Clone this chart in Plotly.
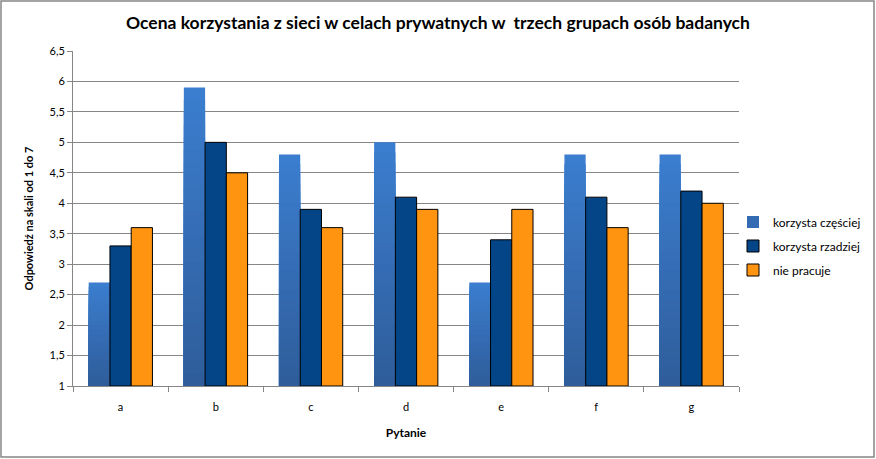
import plotly.graph_objects as go

categories = ["a", "b", "c", "d", "e", "f", "g"]
czesciej = [2.7, 5.9, 4.8, 5.0, 2.7, 4.8, 4.8]
rzadziej = [3.3, 5.0, 3.9, 4.1, 3.4, 4.1, 4.2]
nie_pracuje = [3.6, 4.5, 3.6, 3.9, 3.9, 3.6, 4.0]
series_names = ["korzysta częściej", "korzysta rzadziej", "nie pracuje"]

FONT = "Lato"
AXIS_MIN = 1.0

TOP = (0x3B, 0x7D, 0xCE)
BOTTOM = (0x2E, 0x5C, 0x99)
N_BANDS = 24

W, H = 876, 459
ML, MR, MT, MB = 73, 5, 51, 73
PW = W - ML - MR          # paper-ref width
PH = H - MT - MB          # plot height
PLOT_RIGHT = 739          # right edge of plot area in px


def mix(f):
    c = [round(BOTTOM[i] + (TOP[i] - BOTTOM[i]) * f) for i in range(3)]
    return "rgb(%d,%d,%d)" % tuple(c)


fig = go.Figure()
# gradient bars for series 1: overlaid bands in the same offset group, tallest first
for k in range(N_BANDS, 0, -1):
    f = k / N_BANDS
    fig.add_trace(go.Bar(
        x=categories, y=[(v - AXIS_MIN) * f for v in czesciej], base=AXIS_MIN,
        name=series_names[0], offsetgroup="s1", legendgroup="s1",
        showlegend=(k == N_BANDS // 2), hoverinfo="skip" if k != N_BANDS else None,
        marker=dict(color=mix(f), line=dict(width=0)),
    ))
fig.add_trace(go.Bar(x=categories, y=[v - AXIS_MIN for v in rzadziej], base=AXIS_MIN,
                     name=series_names[1], offsetgroup="s2", legendgroup="s2",
                     marker=dict(color="#034587", line=dict(color="black", width=1))))
fig.add_trace(go.Bar(x=categories, y=[v - AXIS_MIN for v in nie_pracuje], base=AXIS_MIN,
                     name=series_names[2], offsetgroup="s3", legendgroup="s3",
                     marker=dict(color="#FF9411", line=dict(color="black", width=1))))

fig.update_layout(
    width=W, height=H,
    margin=dict(l=ML, r=MR, t=MT, b=MB, autoexpand=False),
    paper_bgcolor="white", plot_bgcolor="white",
    separators=",.",
    barmode="group", bargap=0.33, bargroupgap=0,
    font=dict(family=FONT, size=11, color="black"),
    title=dict(text="<b>Ocena korzystania z sieci w celach prywatnych w  trzech grupach osób badanych</b>",
               x=438 / W, xref="container", xanchor="center", y=1 - 23 / H, yanchor="middle",
               font=dict(family=FONT, size=17.5, color="black")),
    legend=dict(x=(733 - ML) / PW, xanchor="left",
                y=(H - MB - 246) / PH, yanchor="middle",
                bgcolor="rgba(0,0,0,0)",
                font=dict(family=FONT, size=12, color="black"),
                tracegroupgap=5, itemwidth=30, traceorder="grouped"),
    xaxis=dict(domain=[0, (PLOT_RIGHT - ML) / PW],
               showline=True, linecolor="#868686", linewidth=1,
               ticks="outside", ticklen=5, tickcolor="#868686", tickson="boundaries",
               ticklabelstandoff=11,
               title=dict(text="<b>Pytanie</b>", font=dict(family=FONT, size=12), standoff=16),
               tickfont=dict(family=FONT, size=11)),
    yaxis=dict(range=[1, 6.5], dtick=0.5, tick0=1,
               showline=True, linecolor="#868686", linewidth=1,
               ticks="outside", ticklen=5, tickcolor="#868686",
               showgrid=True, gridcolor="#868686", gridwidth=1,
               title=dict(text="<b>Odpowiedź na skali od 1 do 7</b>", font=dict(family=FONT, size=11), standoff=13),
               tickfont=dict(family=FONT, size=11)),
    shapes=[dict(type="rect", xref="paper", yref="paper",
                 x0=(1 - ML) / PW, x1=(874 - ML) / PW,
                 y0=(H - MB - 457) / PH, y1=(H - MB - 1) / PH,
                 line=dict(color="#868686", width=1.5))],
)

fig.write_html("out.html")
